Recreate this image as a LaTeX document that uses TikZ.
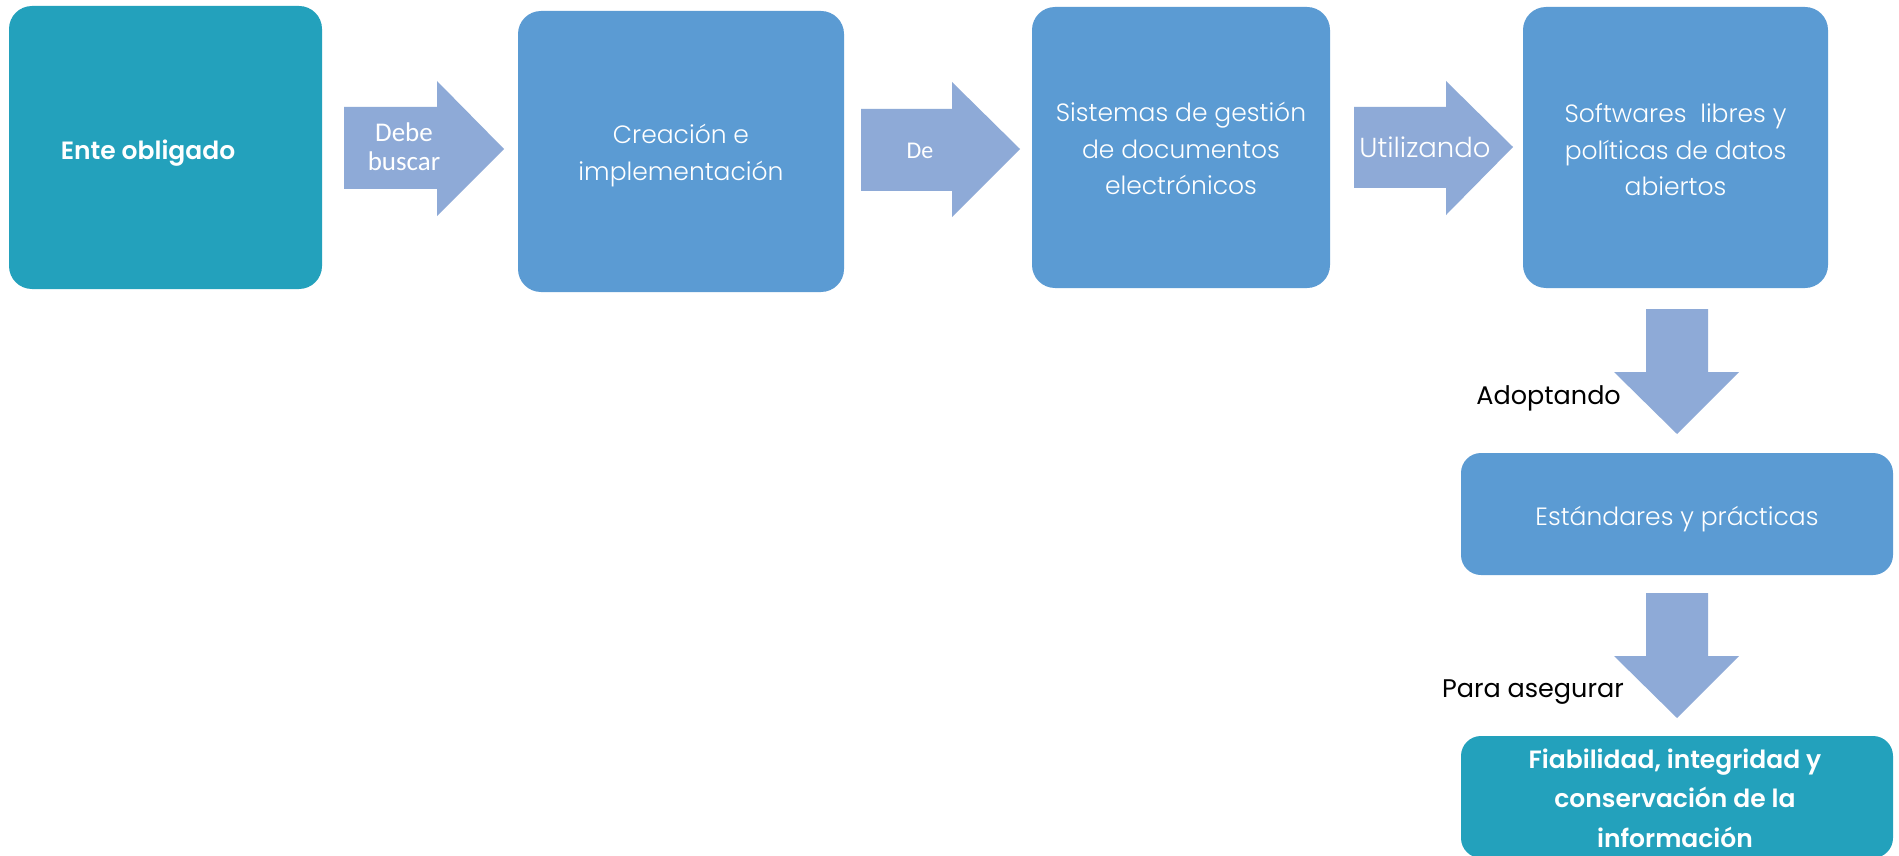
\documentclass[tikz,border=0pt]{standalone}
\usepackage{fontspec}
\setmainfont{Poppins}
\newfontfamily\boxfont{Poppins Light}
\newfontfamily\headfont{Poppins SemiBold}
\newfontfamily\calfont{Carlito}
\definecolor{boxteal}{HTML}{23A1BC}
\definecolor{boxblue}{HTML}{5B9BD3}
\definecolor{arrowblue}{HTML}{8EAAD7}
\tikzset{
  panel/.style={rectangle, rounded corners=23pt, inner sep=0pt},
  bluepanel/.style={panel, fill=boxblue},
  tealpanel/.style={panel, fill=boxteal},
  flatpanel/.style={panel, rounded corners=20pt},
  paneltext/.style={text=white, align=center, inner sep=0pt,
    font=\boxfont\fontsize{25}{36.5}\selectfont},
  headtext/.style={text=white, align=center, inner sep=0pt,
    font=\headfont\fontsize{25}{39.5}\selectfont},
  blockarrow/.style={fill=arrowblue},
  arrowtext/.style={text=white, align=center, inner sep=0pt,
    font=\calfont\fontsize{27}{29}\selectfont},
  sidetext/.style={text=black, inner sep=0pt, font=\fontsize{25.5}{28}\selectfont},
}
\begin{document}
\begin{tikzpicture}[x=1pt, y=-1pt]
  \useasboundingbox[fill=white] (0,0) rectangle (1899,856);
  \begin{scope}
  \clip (0,0) rectangle (1899,856);

  % top row of panels
  \node[tealpanel, minimum width=313pt, minimum height=283pt] (ente) at (165.5,147.5) {};
  \node[headtext] (entetxt) at (148,153) {Ente obligado};

  \node[bluepanel, minimum width=326pt, minimum height=281pt] (crea) at (681,151.5) {};
  \node[paneltext] (creatxt) at ([yshift=-4pt]crea.center) {Creación e\\implementación};

  \node[bluepanel, minimum width=298pt, minimum height=281pt] (sist) at (1181,147.5) {};
  \node[paneltext] (sisttxt) at ([yshift=-1pt]sist.center)
    {Sistemas de gestión\\de documentos\\electrónicos};

  \node[bluepanel, minimum width=305pt, minimum height=281pt] (soft) at (1675.5,147.5) {};
  \node[paneltext] (softtxt) at ([yshift=-2.5pt]soft.center)
    {Softwares\ \ libres y\\políticas de datos\\abiertos};

  % right column of panels
  \node[bluepanel, flatpanel, minimum width=432pt, minimum height=122pt] (estd) at (1677,514) {};
  \node[paneltext] (estdtxt) at ([yshift=-5pt]estd.center) {Estándares y prácticas};

  \node[tealpanel, flatpanel, minimum width=432pt, minimum height=122pt] (fiab) at (1677,797) {};
  \node[headtext] (fiabtxt) at (1675,798)
    {Fiabilidad, integridad y\\conservación de la\\información};

  % horizontal block arrows
  \fill[blockarrow] (344,107) -- (437,107) -- (437,81) -- (504,149)
    -- (437,216) -- (437,189) -- (344,189) -- cycle;
  \node[arrowtext] (lbl1) at (404,147) {Debe\\buscar};

  \fill[blockarrow] (861,109) -- (952,109) -- (952,82) -- (1020,149)
    -- (952,217) -- (952,191) -- (861,191) -- cycle;
  \node[arrowtext, font=\calfont\fontsize{24}{27}\selectfont] (lbl2) at (920,151) {De};

  \fill[blockarrow] (1354,107) -- (1446,107) -- (1446,81) -- (1513,147)
    -- (1446,215) -- (1446,188) -- (1354,188) -- cycle;
  \node[text=white, inner sep=0pt, font=\boxfont\fontsize{27.5}{30}\selectfont] (lbl3) at (1425,147) {Utilizando};

  % vertical block arrows
  \fill[blockarrow] (1646,309) -- (1708,309) -- (1708,372) -- (1739,372)
    -- (1677,434) -- (1614,372) -- (1646,372) -- cycle;
  \node[sidetext, anchor=base east] (lbl4) at (1621,404) {Adoptando};

  \fill[blockarrow] (1646,593) -- (1708,593) -- (1708,656) -- (1739,656)
    -- (1677,718) -- (1614,656) -- (1646,656) -- cycle;
  \node[sidetext, anchor=base east] (lbl5) at (1624,697) {Para asegurar};
  \end{scope}
\end{tikzpicture}
\end{document}
